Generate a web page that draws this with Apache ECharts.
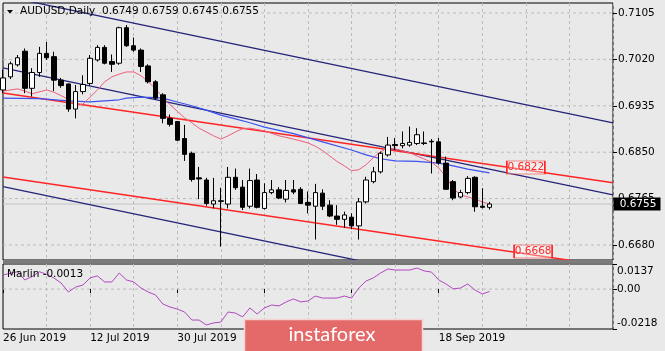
<!DOCTYPE html>
<html>
<head>
<meta charset="utf-8">
<script src="https://cdn.jsdelivr.net/npm/echarts@6/dist/echarts.min.js"></script>
<style>
html, body { margin: 0; padding: 0; background: #e9e9e9; }
#chart { width: 665px; height: 351px; }
</style>
</head>
<body>
<div id="chart"></div>
<script>
var symbolName = "AUDUSD,Daily";
var futureBars = 17;
var fontName = "DejaVu Sans";

// daily bars, 26 Jun 2019 .. 27 Sep 2019
var barOpen = [0.6964, 0.6988, 0.7010, 0.7035, 0.6967, 0.6996, 0.7031, 0.7025, 0.6982, 0.6975,
	0.6929, 0.6961, 0.6976, 0.7019, 0.7042, 0.7016, 0.7013, 0.7078, 0.7045, 0.7037,
	0.7008, 0.6979, 0.6955, 0.6912, 0.6906, 0.6875, 0.6848, 0.6803, 0.6799, 0.6755,
	0.6761, 0.6755, 0.6804, 0.6786, 0.6751, 0.6799, 0.6747, 0.6776, 0.6781, 0.6764,
	0.6781, 0.6782, 0.6758, 0.6751, 0.6775, 0.6753, 0.6733, 0.6727, 0.6731, 0.6715,
	0.6759, 0.6796, 0.6814, 0.6845, 0.6864, 0.6862, 0.6863, 0.6866, 0.6867, 0.6870,
	0.6869, 0.6830, 0.6796, 0.6768, 0.6776, 0.6804, 0.6751, 0.6749];
var barClose = [0.6986, 0.7012, 0.7023, 0.6967, 0.6996, 0.7031, 0.7023, 0.6982, 0.6972, 0.6929,
	0.6961, 0.6974, 0.7022, 0.7042, 0.7013, 0.7011, 0.7078, 0.7045, 0.7037, 0.7007,
	0.6979, 0.6949, 0.6912, 0.6901, 0.6872, 0.6846, 0.6800, 0.6801, 0.6756, 0.6761,
	0.6760, 0.6804, 0.6785, 0.6749, 0.6798, 0.6749, 0.6776, 0.6781, 0.6766, 0.6780,
	0.6777, 0.6756, 0.6753, 0.6776, 0.6751, 0.6733, 0.6727, 0.6735, 0.6715, 0.6759,
	0.6799, 0.6814, 0.6848, 0.6863, 0.6862, 0.6866, 0.6868, 0.6882, 0.6866, 0.6869,
	0.6830, 0.6782, 0.6766, 0.6776, 0.6802, 0.6750, 0.6749, 0.6755];
var barLow = [0.6958, 0.6984, 0.7007, 0.6958, 0.6952, 0.6988, 0.7019, 0.6962, 0.6968, 0.6924,
	0.6912, 0.6956, 0.6972, 0.7016, 0.7011, 0.6997, 0.7010, 0.7043, 0.7034, 0.6997,
	0.6976, 0.6946, 0.6903, 0.6897, 0.6871, 0.6834, 0.6796, 0.6764, 0.6752, 0.6747,
	0.6677, 0.6747, 0.6781, 0.6744, 0.6747, 0.6747, 0.6745, 0.6773, 0.6764, 0.6758,
	0.6773, 0.6755, 0.6738, 0.6690, 0.6744, 0.6731, 0.6717, 0.6711, 0.6709, 0.6690,
	0.6756, 0.6793, 0.6811, 0.6842, 0.6854, 0.6857, 0.6860, 0.6863, 0.6863, 0.6811,
	0.6827, 0.6781, 0.6762, 0.6766, 0.6773, 0.6741, 0.6747, 0.6745];
var barHigh = [0.7001, 0.7016, 0.7028, 0.7040, 0.7004, 0.7043, 0.7052, 0.7034, 0.6986, 0.6976,
	0.6973, 0.6991, 0.7028, 0.7046, 0.7046, 0.7029, 0.7080, 0.7083, 0.7060, 0.7040,
	0.7011, 0.6982, 0.6958, 0.6919, 0.6907, 0.6900, 0.6851, 0.6823, 0.6803, 0.6803,
	0.6785, 0.6823, 0.6820, 0.6799, 0.6820, 0.6810, 0.6793, 0.6799, 0.6786, 0.6799,
	0.6799, 0.6786, 0.6778, 0.6792, 0.6782, 0.6762, 0.6753, 0.6741, 0.6738, 0.6766,
	0.6805, 0.6823, 0.6851, 0.6878, 0.6876, 0.6888, 0.6897, 0.6894, 0.6888, 0.6874,
	0.6876, 0.6842, 0.6799, 0.6781, 0.6806, 0.6806, 0.6784, 0.6759];

// moving averages: [bar, price]
var fastMA = [[0, 0.6962], [2, 0.6966], [3, 0.6962], [4, 0.6957], [6, 0.6964], [7, 0.6960], [9, 0.6947],
	[10, 0.6935], [11, 0.6938], [12, 0.6951], [13, 0.6964], [14, 0.6979], [15, 0.6988], [16, 0.6993],
	[17, 0.6997], [18, 0.6997], [19, 0.6990], [20, 0.6979], [21, 0.6966], [22, 0.6951], [23, 0.6937],
	[24, 0.6925], [25, 0.6913], [26, 0.6904], [27, 0.6894], [28, 0.6887], [29, 0.6880], [30, 0.6874],
	[31, 0.6880], [32, 0.6887], [33, 0.6893], [34, 0.6894], [36, 0.6889], [38, 0.6880], [40, 0.6874],
	[42, 0.6867], [43, 0.6861], [44, 0.6853], [45, 0.6843], [46, 0.6833], [47, 0.6825], [48, 0.6816],
	[49, 0.6818], [50, 0.6827], [51, 0.6840], [52, 0.6851], [53, 0.6858], [54, 0.6856], [56, 0.6849],
	[57, 0.6843], [59, 0.6832], [60, 0.6821], [61, 0.6805], [62, 0.6783], [63, 0.6772], [64, 0.6768],
	[65, 0.6764], [66, 0.6759], [67, 0.6755]];
var slowMA = [[0, 0.6949], [5, 0.6948], [9, 0.6944], [12, 0.6942], [14, 0.6944], [16, 0.6946], [17, 0.6949],
	[19, 0.6951], [21, 0.6950], [22, 0.6949], [24, 0.6942], [26, 0.6935], [28, 0.6927], [30, 0.6918],
	[32, 0.6911], [34, 0.6904], [36, 0.6896], [40, 0.6884], [44, 0.6869], [48, 0.6854], [50, 0.6845],
	[52, 0.6838], [54, 0.6834], [57, 0.6833], [60, 0.6830], [62, 0.6825], [64, 0.6819], [67, 0.6812]];

// Marlin oscillator, one value per bar
var marlin = [0.0077, 0.0086, 0.0095, 0.0050, 0.0068, 0.0095, 0.0081, 0.0061, 0.0033, -0.0016,
	0.0011, 0.0022, 0.0061, 0.0072, 0.0039, 0.0039, 0.0088, 0.0050, 0.0039, 0.0006,
	-0.0016, -0.0032, -0.0081, -0.0098, -0.0109, -0.0125, -0.0169, -0.0169, -0.0196, -0.0185,
	-0.0180, -0.0125, -0.0131, -0.0152, -0.0103, -0.0136, -0.0103, -0.0087, -0.0092, -0.0070,
	-0.0054, -0.0070, -0.0065, -0.0038, -0.0049, -0.0049, -0.0049, -0.0038, -0.0049, 0.0006,
	0.0044, 0.0061, 0.0088, 0.0110, 0.0104, 0.0104, 0.0104, 0.0115, 0.0099, 0.0093,
	0.0050, 0.0028, 0.0001, 0.0006, 0.0028, -0.0005, -0.0027, -0.0013];

// trend channels: [[bar, price], [bar, price]]
var navyChannel = [
	[[0, 0.71362], [84, 0.69037]],
	[[0, 0.70043], [84, 0.67718]],
	[[0, 0.67870], [84, 0.65545]]
];
var redChannel = [
	[[0, 0.69585], [84, 0.67942]],
	[[0, 0.68046], [84, 0.66403]]
];
var levelTags = [[72, 0.6822], [73, 0.6668]];

var priceTicks = [0.6680, 0.6765, 0.6850, 0.6935, 0.7020, 0.7105];
var marlinTicks = [-0.0218, 0, 0.0137];
var priceMin = 0.66525, priceMax = 0.71233;

var months = ["Jan", "Feb", "Mar", "Apr", "May", "Jun", "Jul", "Aug", "Sep", "Oct", "Nov", "Dec"];
var categories = [];
var d = new Date(2019, 5, 26);
while (categories.length < barOpen.length + futureBars) {
	if (d.getDay() != 0 && d.getDay() != 6) {
		categories.push(d.getDate() + " " + months[d.getMonth()] + " " + d.getFullYear());
	}
	d.setDate(d.getDate() + 1);
}

var candles = [];
for (var i = 0; i < barOpen.length; i++) {
	candles.push([barOpen[i], barClose[i], barLow[i], barHigh[i]]);
}
var last = barOpen.length - 1;
var lastClose = barClose[last];
var lastSlot = categories.length - 1;

var gridLine = { color: "#bcbcbc", type: [3, 3], width: 1 };

function vSplit(index) {
	return index > 0 && index % 6 == 0;
}
function dateTick(index) {
	return index % 12 == 0 && index <= last;
}
// horizontal line across a whole panel
function hLine(v, axis, style, z) {
	return {
		type: "line", xAxisIndex: axis, yAxisIndex: axis, data: [[0, v], [lastSlot, v]],
		symbol: "none", silent: true, z: z, lineStyle: style
	};
}

var series = [];
priceTicks.forEach(function(v) {
	series.push(hLine(v, 0, gridLine, 1));
});
series.push(hLine(lastClose, 0, { color: "#c4c4c4", width: 1 }, 1));
series.push(hLine(0, 1, gridLine, 1));

navyChannel.forEach(function(l) {
	series.push({
		type: "line", xAxisIndex: 0, yAxisIndex: 0, data: l, symbol: "none", silent: true, z: 3,
		lineStyle: { color: "#24247a", width: 1.3 }
	});
});
redChannel.forEach(function(l, k) {
	series.push({
		type: "line", xAxisIndex: 0, yAxisIndex: 0, data: l, symbol: "none", silent: true, z: 3,
		lineStyle: { color: "#ff2525", width: 1.5 },
		markPoint: {
			symbol: "rect", symbolSize: [38, 13], silent: true,
			itemStyle: { color: "rgba(255,255,255,0.35)", borderColor: "#ff2525", borderWidth: 1 },
			label: { show: true, position: "inside", color: "#ff2525", fontFamily: fontName, fontSize: 10.5,
				formatter: function(p) { return p.data.coord[1].toFixed(4); } },
			data: [{ coord: levelTags[k] }]
		}
	});
});

series.push({
	type: "line", xAxisIndex: 0, yAxisIndex: 0, data: slowMA, symbol: "none", silent: true, z: 4,
	lineStyle: { color: "#3b52f0", width: 1.2 }
});
series.push({
	type: "line", xAxisIndex: 0, yAxisIndex: 0, data: fastMA, symbol: "none", silent: true, z: 4,
	lineStyle: { color: "#ee5f7a", width: 1 }
});

series.push({
	type: "candlestick", xAxisIndex: 0, yAxisIndex: 0, data: candles, barWidth: 5, z: 5,
	itemStyle: { color: "#ffffff", color0: "#000000", borderColor: "#000000", borderColor0: "#000000", borderWidth: 1 },
	markPoint: {
		symbol: "rect", symbolSize: [47, 13], symbolOffset: [24, 0], silent: true,
		itemStyle: { color: "#000" },
		label: { show: true, position: "inside", offset: [1, 0], color: "#fff", fontFamily: fontName, fontSize: 10.5,
			formatter: lastClose.toFixed(4) },
		data: [{ coord: [lastSlot, lastClose] }]
	}
});

series.push({
	type: "line", xAxisIndex: 1, yAxisIndex: 1, data: marlin, symbol: "none", silent: true, z: 3,
	lineStyle: { color: "#b048c0", width: 1 }
});

var chart = echarts.init(document.getElementById("chart"));
chart.setOption({
	animation: false,
	backgroundColor: "#e9e9e9",
	grid: [
		{ left: 3, right: 52, top: 3, height: 257, show: true, borderColor: "#000", borderWidth: 1, outerBoundsMode: "none" },
		{ left: 3, right: 52, top: 264, height: 65, show: true, borderColor: "#000", borderWidth: 1, outerBoundsMode: "none" }
	],
	xAxis: [{
		type: "category", gridIndex: 0, data: categories, boundaryGap: false,
		axisLine: { show: false }, axisTick: { show: false }, axisLabel: { show: false },
		splitLine: { show: true, interval: vSplit, lineStyle: gridLine }
	}, {
		type: "category", gridIndex: 1, data: categories, boundaryGap: false,
		axisLine: { show: false },
		axisTick: { show: true, length: 4, interval: dateTick, lineStyle: { color: "#000" } },
		axisLabel: { show: true, interval: dateTick, align: "left", margin: 4,
			fontFamily: fontName, fontSize: 10.5, color: "#000" },
		splitLine: { show: true, interval: vSplit, lineStyle: gridLine }
	}],
	yAxis: [{
		type: "value", gridIndex: 0, position: "right", min: priceMin, max: priceMax, scale: true,
		splitLine: { show: false }, axisLine: { show: false },
		axisTick: { show: true, length: 4, customValues: priceTicks, lineStyle: { color: "#000" } },
		axisLabel: { customValues: priceTicks, margin: 5, fontFamily: fontName, fontSize: 10.5, color: "#000",
			formatter: function(v) { return v.toFixed(4); } }
	}, {
		type: "value", gridIndex: 1, position: "right", min: marlinTicks[0], max: marlinTicks[2],
		splitLine: { show: false }, axisLine: { show: false },
		axisTick: { show: true, length: 4, customValues: marlinTicks, lineStyle: { color: "#000" } },
		axisLabel: { customValues: marlinTicks, margin: 4, fontFamily: fontName, fontSize: 10.5, color: "#000",
			formatter: function(v) {
				if (v > 0) return "{top|" + v.toFixed(4) + "}";
				if (v < 0) return "{bot|" + v.toFixed(4) + "}";
				return "0.00";
			},
			rich: {
				top: { fontFamily: fontName, fontSize: 10.5, color: "#000", padding: [14, 0, 0, 0] },
				bot: { fontFamily: fontName, fontSize: 10.5, color: "#000", padding: [0, 0, 12, 0] }
			}
		}
	}],
	graphic: [
		{ type: "rect", shape: { x: 3, y: 260, width: 610, height: 3 }, style: { fill: "#7c7c7c" }, z: 10 },
		{ type: "polygon", shape: { points: [[7, 10], [13, 10], [10, 13.5]] }, style: { fill: "#000" }, z: 10 },
		{ type: "text", x: 20, y: 11.5, z: 10,
			style: { text: symbolName + "  " + [barOpen[last], barHigh[last], barLow[last], barClose[last]].map(function(v) { return v.toFixed(4); }).join(" "),
				fill: "#000", font: "10.5px '" + fontName + "'", verticalAlign: "middle" } },
		{ type: "text", x: 7, y: 274, z: 10,
			style: { text: "Marlin " + marlin[last].toFixed(4), fill: "#000", font: "10.5px '" + fontName + "'", verticalAlign: "middle" } },
		{ type: "rect", z: 100, shape: { x: 244.5, y: 319.5, width: 178, height: 40 },
			style: { fill: "#e46a6a", stroke: "#f6d4d4", lineWidth: 1.5 } },
		{ type: "text", z: 101, x: 332, y: 335,
			style: { text: "instaforex", fill: "#fff", font: "20px Lato", align: "center", verticalAlign: "middle" } }
	],
	series: series
});
</script>
</body>
</html>
